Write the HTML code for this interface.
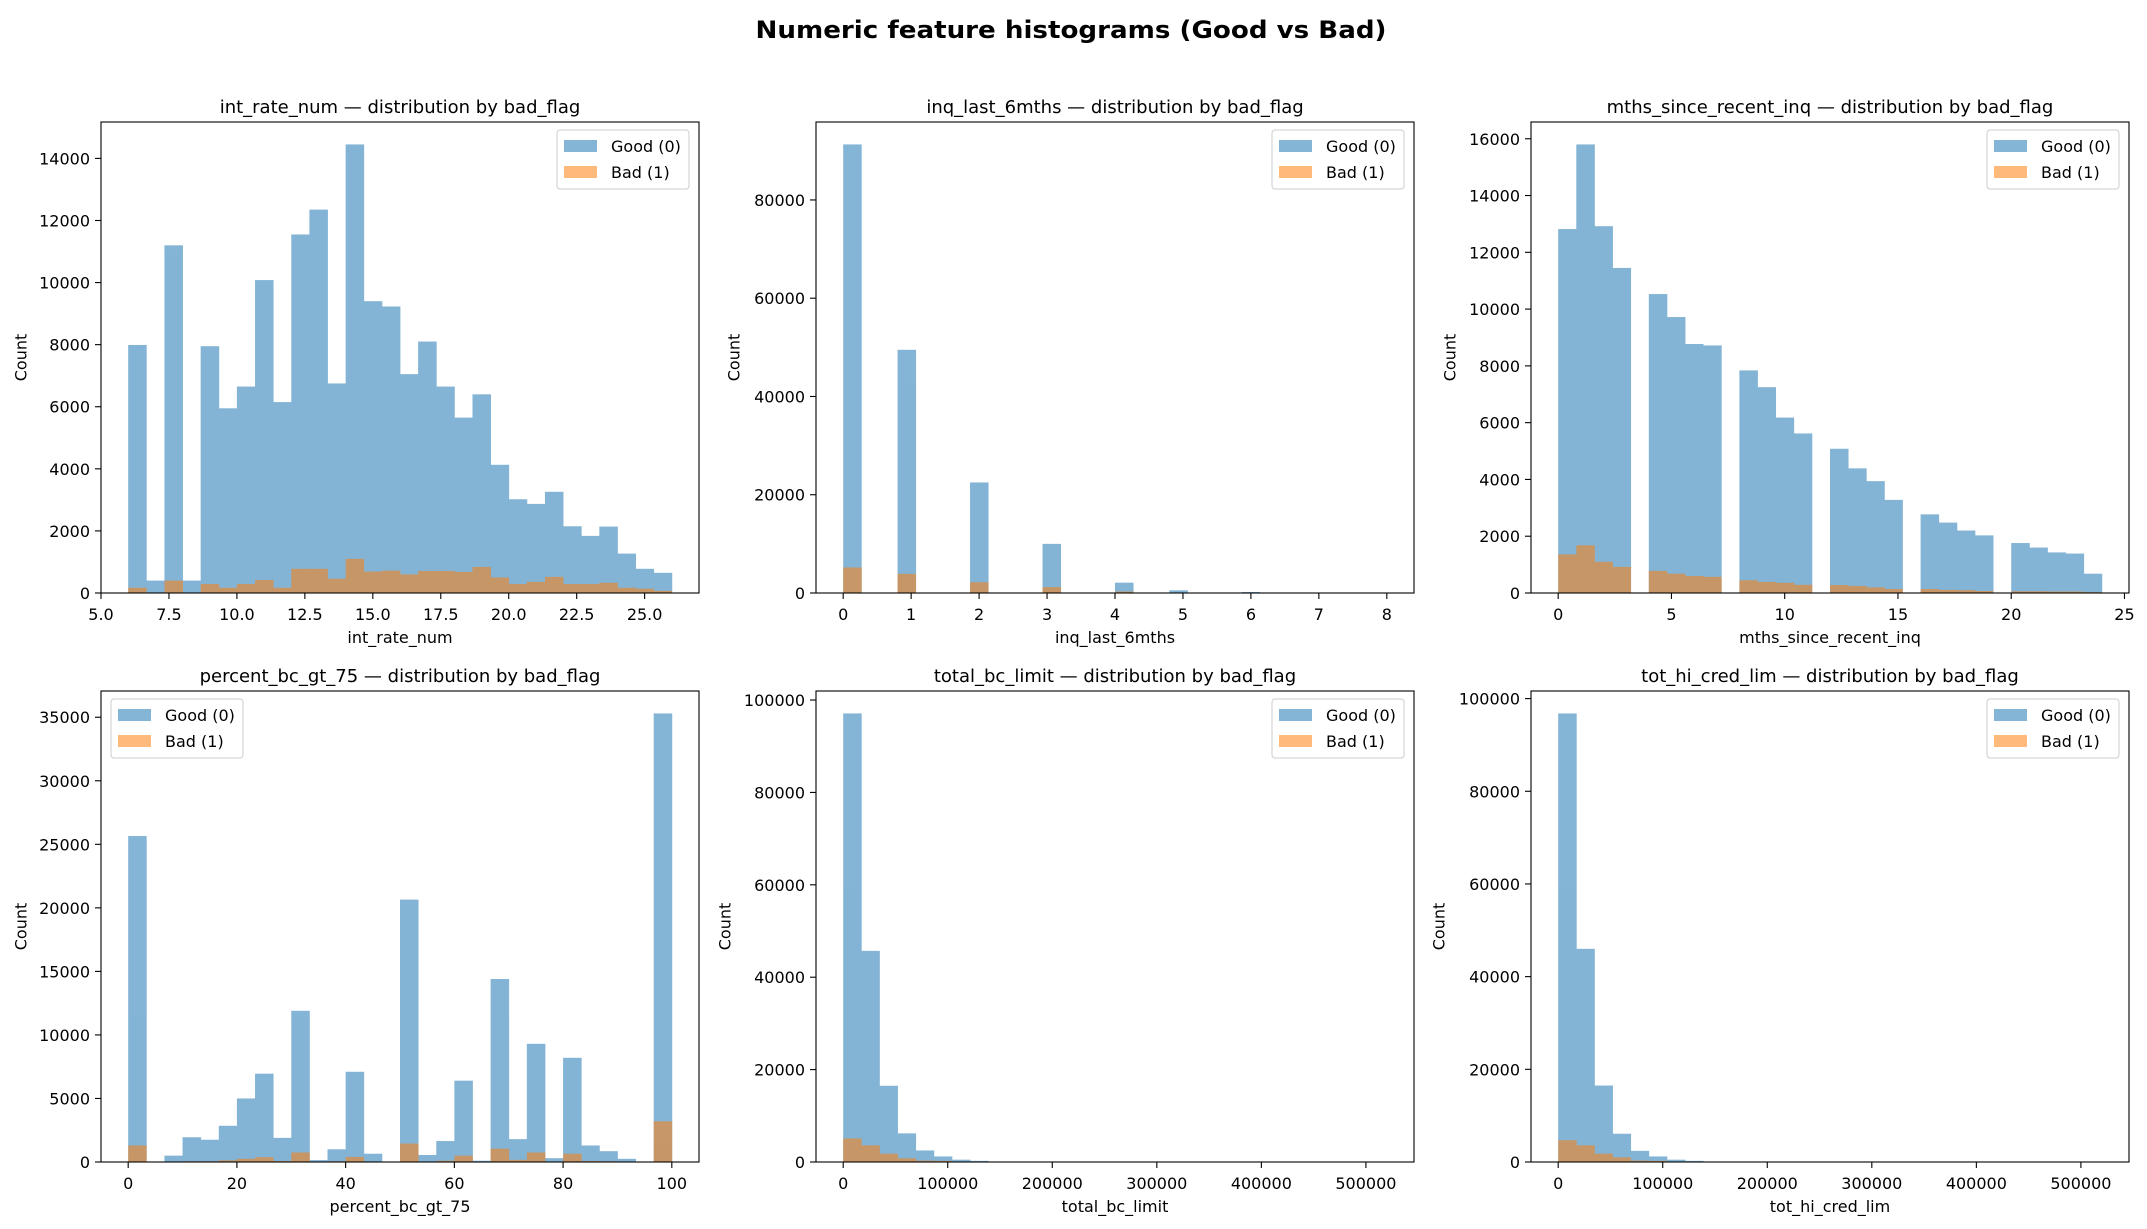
<!DOCTYPE html>
<html><head><meta charset="utf-8"><style>
html,body{margin:0;padding:0;background:#fff}
svg{display:block}
text{font-family:"DejaVu Sans","Liberation Sans",sans-serif;fill:#000}
</style></head><body>
<svg id="fig" width="2147" height="1229" viewBox="0 0 2147 1229" xmlns="http://www.w3.org/2000/svg">
<rect width="2147" height="1229" fill="#fff"/>
<text x="1071" y="38" text-anchor="middle" font-size="24" font-weight="bold" textLength="631" lengthAdjust="spacingAndGlyphs">Numeric feature histograms (Good vs Bad)</text>
</svg>
<script>
// ---- data: int_rate_num ----
const intRateRange = [6, 26];
const intRateGood = [7990,400,11200,400,7950,5950,6650,10080,6150,11550,12350,6750,14450,9400,9230,7050,8100,6650,5650,6400,4130,3020,2870,3260,2150,1840,2140,1270,780,650];
const intRateBad = [170,0,400,0,290,170,290,420,170,780,780,460,1100,690,720,600,710,710,680,840,500,290,360,520,290,290,330,170,140,70];
const intRateXTicks = [5.0,7.5,10.0,12.5,15.0,17.5,20.0,22.5,25.0];
const intRateYTicks = [0,2000,4000,6000,8000,10000,12000,14000];
// ---- data: inq_last_6mths ----
const inqRange = [0, 8];
const inqGood = [91300,0,0,49500,0,0,0,22500,0,0,0,10000,0,0,0,2100,0,0,550,0,0,0,200,0,0,0,30,0,0,10];
const inqBad = [5200,0,0,3900,0,0,0,2200,0,0,0,1200,0,0,0,300,0,0,50,0,0,0,20,0,0,0,0,0,0,0];
const inqXTicks = [0,1,2,3,4,5,6,7,8];
const inqYTicks = [0,20000,40000,60000,80000];
// ---- data: mths_since_recent_inq ----
const mthsRange = [0, 24];
const mthsGood = [12820,15800,12920,11450,0,10530,9720,8770,8720,0,7840,7250,6180,5620,0,5080,4390,3940,3280,0,2770,2480,2200,2030,0,1760,1600,1430,1390,680];
const mthsBad = [1360,1680,1100,920,0,780,680,600,570,0,450,390,360,290,0,280,250,200,140,0,140,110,100,70,0,60,60,50,50,30];
const mthsXTicks = [0,5,10,15,20,25];
const mthsYTicks = [0,2000,4000,6000,8000,10000,12000,14000,16000];
// ---- data: percent_bc_gt_75 ----
const pctRange = [0, 100];
const pctGood = [25650,0,500,1950,1750,2850,5000,6950,1900,11900,150,1000,7100,650,0,20650,550,1650,6400,100,14400,1800,9300,300,8200,1300,850,250,0,35300];
const pctBad = [1300,0,20,60,60,130,250,380,80,750,20,60,400,30,0,1450,40,100,500,20,1050,170,750,30,650,80,60,20,0,3200];
const pctXTicks = [0,20,40,60,80,100];
const pctYTicks = [0,5000,10000,15000,20000,25000,30000,35000];
// ---- data: total_bc_limit ----
const bcRange = [0, 520000];
const bcGood = [97100,45700,16500,6200,2500,1200,500,250,100,50,20,10,5,0,0,0,0,0,0,0,0,0,0,0,0,0,0,0,0,5];
const bcBad = [5100,3600,1800,800,300,250,100,50,20,10,0,0,0,0,0,0,0,0,0,0,0,0,0,0,0,0,0,0,0,0];
const bcXTicks = [0,100000,200000,300000,400000,500000];
const bcYTicks = [0,20000,40000,60000,80000,100000];
// ---- data: tot_hi_cred_lim ----
const hiRange = [0, 520000];
const hiGood = [96800,46000,16500,6100,2400,1200,500,250,100,50,20,10,5,0,0,0,0,0,0,0,0,0,0,0,0,0,0,0,0,5];
const hiBad = [4700,3600,1800,1000,300,250,100,50,20,10,0,0,0,0,0,0,0,0,0,0,0,0,0,0,0,0,0,0,0,0];
const hiXTicks = [0,100000,200000,300000,400000,500000];
const hiYTicks = [0,20000,40000,60000,80000,100000];

const NS = "http://www.w3.org/2000/svg";
const svg = document.getElementById('fig');
function mk(tag, attrs, parent){
  const e = document.createElementNS(NS, tag);
  for (const k in attrs) e.setAttribute(k, attrs[k]);
  (parent||svg).appendChild(e);
  return e;
}
const panels = [
  {key:'int-rate', title:'int_rate_num — distribution by bad_flag', xl:'int_rate_num', range:intRateRange, good:intRateGood, bad:intRateBad, xt:intRateXTicks, yt:intRateYTicks, dec:1, L:101, T:122, yl:80, leg:'right'},
  {key:'inq-last-6mths', title:'inq_last_6mths — distribution by bad_flag', xl:'inq_last_6mths', range:inqRange, good:inqGood, bad:inqBad, xt:inqXTicks, yt:inqYTicks, dec:0, L:816, T:122, yl:82, leg:'right'},
  {key:'mths-since-recent-inq', title:'mths_since_recent_inq — distribution by bad_flag', xl:'mths_since_recent_inq', range:mthsRange, good:mthsGood, bad:mthsBad, xt:mthsXTicks, yt:mthsYTicks, dec:0, L:1531, T:122, yl:81, leg:'right'},
  {key:'percent-bc-gt-75', title:'percent_bc_gt_75 — distribution by bad_flag', xl:'percent_bc_gt_75', range:pctRange, good:pctGood, bad:pctBad, xt:pctXTicks, yt:pctYTicks, dec:0, L:101, T:691, yl:80, leg:'left'},
  {key:'total-bc-limit', title:'total_bc_limit — distribution by bad_flag', xl:'total_bc_limit', range:bcRange, good:bcGood, bad:bcBad, xt:bcXTicks, yt:bcYTicks, dec:0, L:816, T:691, yl:91, leg:'right'},
  {key:'tot-hi-cred-lim', title:'tot_hi_cred_lim — distribution by bad_flag', xl:'tot_hi_cred_lim', range:hiRange, good:hiGood, bad:hiBad, xt:hiXTicks, yt:hiYTicks, dec:0, L:1531, T:691, yl:92, leg:'right'}
];
const W = 598, H = 471;
panels.forEach(p => {
  const g = mk('g', {});
  
  
  const lo = p.range[0], hi = p.range[1], span = hi - lo;
  const x0 = lo - span*0.05, x1 = hi + span*0.05;
  const ymax = Math.max(...p.good, ...p.bad) * 1.05;
  const sx = v => p.L + (v - x0) / (x1 - x0) * W;
  const sy = v => p.T + H - v / ymax * H;
  const n = p.good.length, bw = span / n;
  const drawSeries = (arr, color, name) => {
    const sg = mk('g', {opacity:0.55}, g);
    
    
    arr.forEach((v, i) => {
      if (v <= 0) return;
      const a = sx(lo + i*bw), b = sx(lo + (i+1)*bw);
      const r = mk('rect', {x:a, y:sy(v), width:b-a+0.4, height:sy(0)-sy(v), fill:color}, sg);
      
      
    });
  };
  drawSeries(p.good, '#1f77b4', 'good');
  drawSeries(p.bad, '#ff7f0e', 'bad');
  const fr = mk('rect', {x:p.L, y:p.T, width:W, height:H, fill:'none', stroke:'#000', 'stroke-width':1.1}, g);
  
  
  p.xt.forEach(t => {
    const x = sx(t);
    mk('line', {x1:x, x2:x, y1:p.T+H, y2:p.T+H+6, stroke:'#000', 'stroke-width':1.1}, g);
    const tx = mk('text', {x:x, y:p.T+H+27, 'text-anchor':'middle', 'font-size':16}, g);
    tx.textContent = t.toFixed(p.dec);
    
    
  });
  p.yt.forEach(t => {
    const y = sy(t);
    mk('line', {x1:p.L-6, x2:p.L, y1:y, y2:y, stroke:'#000', 'stroke-width':1.1}, g);
    const tx = mk('text', {x:p.L-11, y:y+6, 'text-anchor':'end', 'font-size':16}, g);
    tx.textContent = String(t);
    
    
  });
  const tt = mk('text', {x:p.L+W/2, y:p.T-9, 'text-anchor':'middle', 'font-size':18}, g);
  tt.textContent = p.title;
  
  
  const xl = mk('text', {x:p.L+W/2, y:p.T+H+50, 'text-anchor':'middle', 'font-size':16}, g);
  xl.textContent = p.xl;
  
  
  const yx = p.L - p.yl, yy = p.T + H/2;
  const yl = mk('text', {x:yx, y:yy, 'text-anchor':'middle', 'dominant-baseline':'central', 'font-size':16, transform:`rotate(-90 ${yx} ${yy})`}, g);
  yl.textContent = 'Count';
  
  
  const lw = 132, lh = 59;
  const lx = p.leg === 'right' ? p.L + W - 10 - lw : p.L + 10;
  const ly = p.T + 8;
  const lg = mk('g', {}, g);
  
  
  mk('rect', {x:lx, y:ly, width:lw, height:lh, rx:3, fill:'#fff', 'fill-opacity':0.8, stroke:'#ccc', 'stroke-width':1}, lg);
  [['Good (0)', '#1f77b4', 'legend-entry-good'], ['Bad (1)', '#ff7f0e', 'legend-entry-bad']].forEach((e, i) => {
    const cy = ly + 16 + i*26;
    const eg = mk('g', {}, lg);
    
    
    mk('rect', {x:lx+7, y:cy-6, width:33, height:12, fill:e[1], 'fill-opacity':0.55}, eg);
    const t = mk('text', {x:lx+54, y:cy+6, 'font-size':16}, eg);
    t.textContent = e[0];
  });
});
</script>
</body></html>
